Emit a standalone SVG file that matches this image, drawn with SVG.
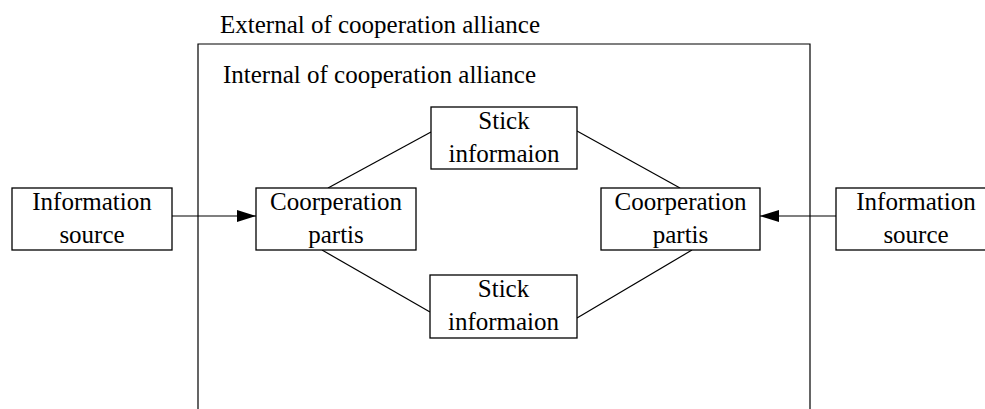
<svg xmlns="http://www.w3.org/2000/svg" width="985" height="409" viewBox="0 0 985 409">
<style>
.box{fill:#fff;stroke:#000;stroke-width:1.3}
.t{font-family:"Liberation Serif","Times New Roman",serif;font-size:25px;fill:#000}
.c{text-anchor:middle}
.ln{stroke:#000;stroke-width:1.2;fill:none}
</style>
<defs>
<marker id="ah" markerWidth="20" markerHeight="12" refX="19" refY="6" orient="auto" markerUnits="userSpaceOnUse">
<path d="M0,0 L19,6 L0,12 Z" fill="#000"/>
</marker>
</defs>
<rect width="985" height="409" fill="#fff"/>
<g id="external">
<text class="t" x="220" y="33">External of cooperation alliance</text>
<path class="ln" d="M198,410 V44 H810 V410" stroke-width="1.3"/>
</g>
<g id="internal">
<text class="t" x="223" y="83">Internal of cooperation alliance</text>
</g>
<g id="connectors">
<line class="ln" x1="172" y1="216" x2="256" y2="216" marker-end="url(#ah)"/>
<line class="ln" x1="836" y1="216" x2="760" y2="216" marker-end="url(#ah)"/>
<line class="ln" x1="328" y1="188" x2="431" y2="132"/>
<line class="ln" x1="577" y1="131" x2="680" y2="188"/>
<line class="ln" x1="322" y1="250" x2="430" y2="312"/>
<line class="ln" x1="577" y1="318" x2="692" y2="250"/>
</g>
<g id="info-left">
<rect class="box" x="12" y="188" width="160" height="62"/>
<text class="t c" x="92" y="210">Information</text>
<text class="t c" x="92" y="243">source</text>
</g>
<g id="coop-left">
<rect class="box" x="256" y="188" width="160" height="62"/>
<text class="t c" x="336" y="210">Coorperation</text>
<text class="t c" x="336" y="243">partis</text>
</g>
<g id="stick-top">
<rect class="box" x="431" y="107" width="146" height="62"/>
<text class="t c" x="504" y="129">Stick</text>
<text class="t c" x="504" y="162">informaion</text>
</g>
<g id="stick-bottom">
<rect class="box" x="430" y="275" width="147" height="63"/>
<text class="t c" x="503.5" y="297">Stick</text>
<text class="t c" x="503.5" y="330">informaion</text>
</g>
<g id="coop-right">
<rect class="box" x="601" y="188" width="159" height="62"/>
<text class="t c" x="680.5" y="210">Coorperation</text>
<text class="t c" x="680.5" y="243">partis</text>
</g>
<g id="info-right">
<rect class="box" x="836" y="188" width="160" height="62"/>
<text class="t c" x="916" y="210">Information</text>
<text class="t c" x="916" y="243">source</text>
</g>
</svg>
